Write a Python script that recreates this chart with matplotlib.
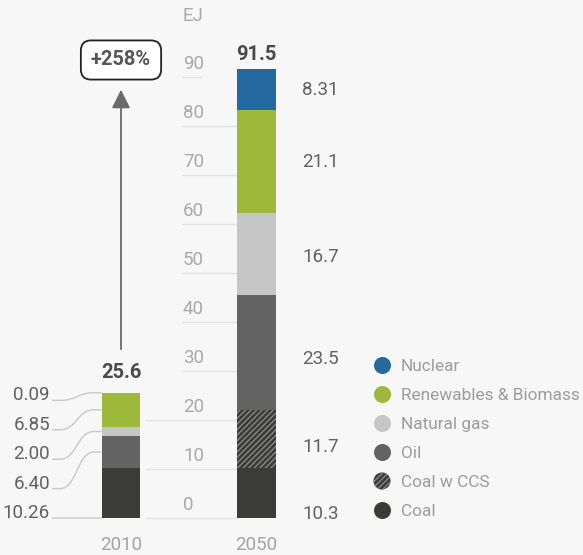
import matplotlib
matplotlib.use("Agg")
import matplotlib.pyplot as plt
from matplotlib.path import Path
import matplotlib.patches as mpatches

plt.rcParams['font.family'] = ['Roboto', 'DejaVu Sans']
plt.rcParams['hatch.linewidth'] = 0.9

# data (EJ), bottom to top
sources = ['Coal', 'Coal w CCS', 'Oil', 'Natural gas', 'Renewables & Biomass', 'Nuclear']
colors = ['#3b3b39', '#3b3b39', '#636363', '#c6c6c6', '#9db83b', '#23689f']
years = ['2010', '2050']
v2010 = [10.26, 0.0, 6.40, 2.00, 6.85, 0.09]
v2050 = [10.3, 11.7, 23.5, 16.7, 21.1, 8.31]
lbl2010 = ['10.26', None, '6.40', '2.00', '6.85', '0.09']
lbl2050 = ['10.3', '11.7', '23.5', '16.7', '21.1', '8.31']
totals = ['25.6', '91.5']
growth = '+258%'
yticks = [0, 10, 20, 30, 40, 50, 60, 70, 80, 90]

# layout: axes in pixel x, y in EJ (0 at px 518, 4.9 px per EJ)
W, H = 583, 555
Y0, K = 518, 4.9
def py(p):
    return (Y0 - p) / K

fig = plt.figure(figsize=(W / 100, H / 100), dpi=100)
fig.patch.set_facecolor('#f7f7f7')
ax = fig.add_axes([0, 0, 1, 1])
ax.set_facecolor('#f7f7f7')
ax.set_xlim(0, W)
ax.set_ylim(py(H), py(0))
ax.axis('off')

xpos = [121, 256.5]
bw = 38.5

# gridlines + tick labels
for t in yticks:
    x0 = 145 if t <= 20 else 182
    x1 = 202 if t == 90 else xpos[1] - bw / 2
    ax.hlines(t, x0, x1, color='#e2e2e2', lw=1, zorder=0)
    ax.text(183, t + 1.6, str(t), color='#a9a9a9', fontsize=13.5, va='baseline', ha='left')
ax.text(183, py(16), 'EJ', color='#a9a9a9', fontsize=13.5, va='center', ha='left')

# stacked bars
for xi, vals in zip(xpos, [v2010, v2050]):
    bottom = 0
    for src, c, v in zip(sources, colors, vals):
        if v > 0:
            if src == 'Coal w CCS':
                ax.bar(xi, v, bw, bottom=bottom, color=c, edgecolor='#8c8c8c', lw=0,
                       hatch='//////', zorder=2)
            else:
                ax.bar(xi, v, bw, bottom=bottom, color=c, lw=0, zorder=2)
        bottom += v

# totals
for xi, vals, tt, off in zip(xpos, [v2010, v2050], totals, [15, 9]):
    ax.text(xi, sum(vals) + off / K, tt, ha='center', va='baseline', fontsize=14.5,
            fontweight='bold', color='#4a4a4a')

# 2010 labels with curved leaders
bottom = 0
row = 0
for v, lab in zip(v2010, lbl2010):
    if lab is None:
        continue
    ly = row * 6.0
    ax.text(50, ly, lab, ha='right', va='baseline', fontsize=13.5, color='#616161')
    ey = ly if row == 0 else bottom + v / 2
    verts = [(52, ly), (60, ly), (77, ly), (77, ey), (94, ey), (xpos[0] - bw / 2, ey)]
    codes = [Path.MOVETO, Path.LINETO, Path.CURVE4, Path.CURVE4, Path.CURVE4, Path.LINETO]
    ax.add_patch(mpatches.PathPatch(Path(verts, codes), fill=False, ec='#c9c9c9', lw=1, zorder=1))
    bottom += v
    row += 1

# 2050 labels
r_label_y = [py(512), py(445), py(357), py(255), py(160), py(88)]
for lab, ly in zip(lbl2050, r_label_y):
    ax.text(302, ly, lab, ha='left', va='center_baseline', fontsize=13.5, color='#616161')

# year labels
for xi, yr in zip(xpos, years):
    ax.text(xi, py(543), yr, ha='center', va='center_baseline', fontsize=13.5, color='#a3a3a3')

# growth arrow and box
ax.annotate('', xy=(xpos[0], py(87)), xytext=(xpos[0], py(352)),
            arrowprops=dict(arrowstyle='-|>,head_length=0.7,head_width=0.35', color='#6a6a6a',
                            lw=1.3, mutation_scale=16))
ax.text(xpos[0], py(58), growth, ha='center', va='center_baseline', fontsize=14.5,
        fontweight='bold', color='#555555',
        bbox=dict(boxstyle='round,pad=0.5,rounding_size=0.5', fc='white', ec='#222222', lw=1.3))

# legend
leg_y = [510, 481, 452, 423, 394, 365]
for src, c, ly in zip(sources, colors, leg_y):
    if src == 'Coal w CCS':
        ax.scatter(382, py(ly), s=150, color=c, edgecolor='#8a8a8a', lw=0, hatch='//////', zorder=3)
    else:
        ax.scatter(382, py(ly), s=150, color=c, lw=0, zorder=3)
    ax.text(401, py(ly), src, ha='left', va='center_baseline', fontsize=12.4, color='#9c9c9c')

fig.savefig('out.png', dpi=100, facecolor=fig.get_facecolor())
